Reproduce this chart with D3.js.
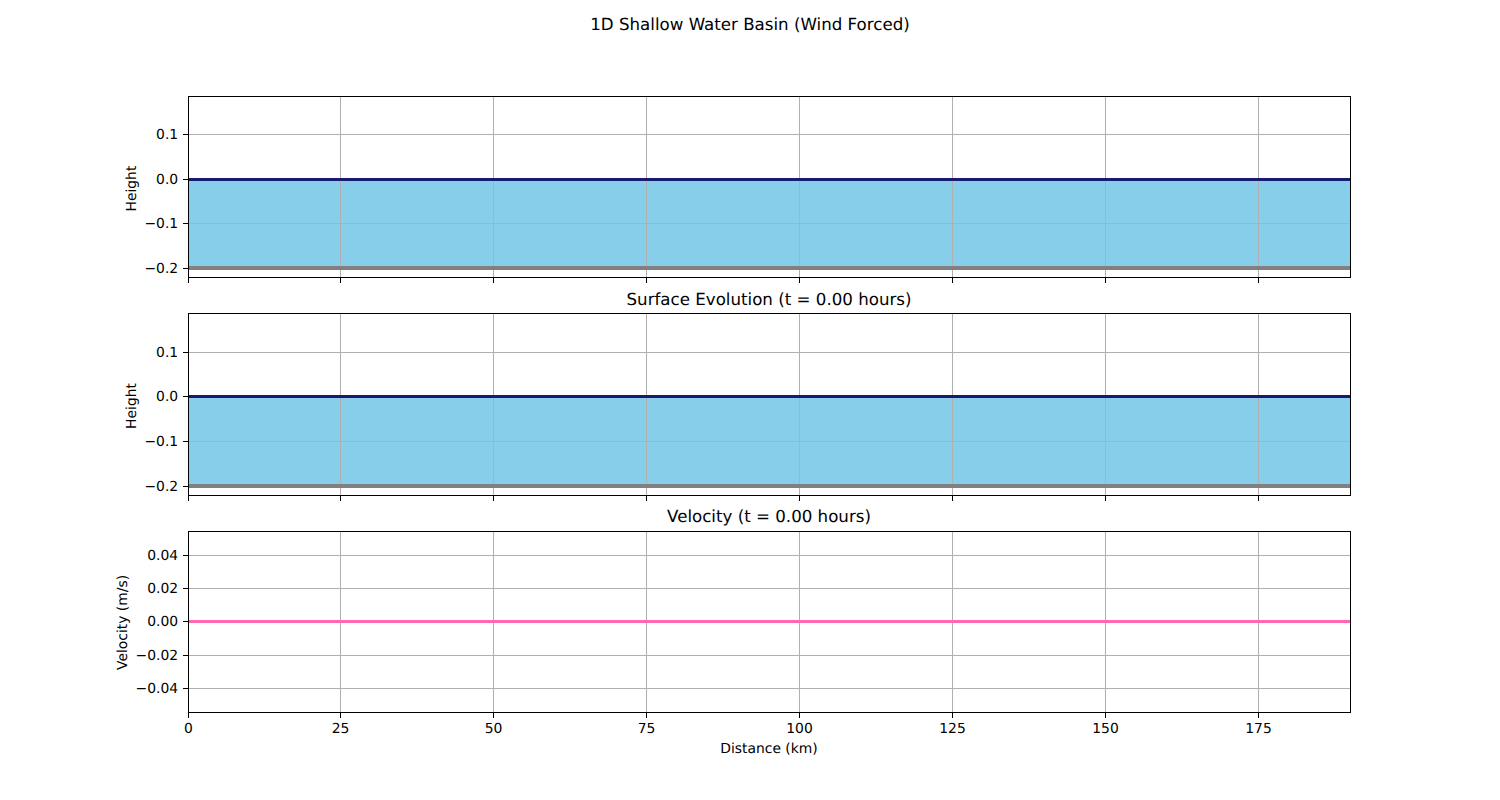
<!DOCTYPE html>
<html>
<head>
<meta charset="utf-8">
<script src="https://cdn.jsdelivr.net/npm/d3@7"></script>
<style>
  html, body { margin: 0; padding: 0; background: #fff; overflow: hidden; }
  text { font-family: "DejaVu Sans", sans-serif; fill: #000; text-rendering: geometricPrecision; }
</style>
</head>
<body>
<script>
// values
var distance = [0, 190];
var surface = [0, 0];
var bed = [-0.2, -0.2];
var velocity = [0, 0];

var xTicks = [0, 25, 50, 75, 100, 125, 150, 175];
var heightTicks = [-0.2, -0.1, 0, 0.1];
var velocityTicks = [-0.04, -0.02, 0, 0.02, 0.04];

var figureTitle = "1D Shallow Water Basin (Wind Forced)";
var surfaceTitle = "Surface Evolution (t = 0.00 hours)";
var velocityTitle = "Velocity (t = 0.00 hours)";

var heightDomain = [-0.219, 0.1864];
var velocityDomain = [-0.0543, 0.0549];

var width = 1500, height = 800;
var left = 188, right = 1350;
var panelH = 181.18, panelGap = 36.24, top0 = 96;

var svg = d3.select("body").append("svg")
    .attr("width", width)
    .attr("height", height)
    .style("display", "block");

svg.append("text")
    .attr("x", 750)
    .attr("y", 30)
    .attr("text-anchor", "middle")
    .style("font-size", "16.67px")
    .text(figureTitle);

var x = d3.scaleLinear().domain([0, 190]).range([left, right]);

function minusFormat(digits) {
    return function (d) { return d3.format("." + digits + "f")(d).replace("-", "\u2212"); };
}

// lines sit on a pixel row, like the original
function snap(v) { return Math.floor(v) + 0.5; }

function drawPanel(i, opts) {
    var top = top0 + i * (panelH + panelGap);
    var bottom = top + panelH;
    var y = d3.scaleLinear().domain(opts.domain).range([bottom, top]);
    var g = svg.append("g");
    var clipId = "clip" + i;

    g.append("clipPath").attr("id", clipId)
        .append("rect")
        .attr("x", left).attr("y", top)
        .attr("width", right - left).attr("height", panelH);

    var fillLayer = g.append("g").attr("clip-path", "url(#" + clipId + ")");

    if (opts.surface) {
        var rows = distance.map(function (d, j) {
            return { x: d, top: opts.surface[j], low: opts.bed[j] };
        });
        var area = d3.area()
            .x(function (d) { return x(d.x); })
            .y0(function (d) { return y(d.low); })
            .y1(function (d) { return y(d.top); });
        fillLayer.append("path").datum(rows)
            .attr("d", area)
            .attr("fill", "#87ceeb");
    }

    // grid
    g.append("g").selectAll("line").data(xTicks).enter().append("line")
        .attr("x1", function (d) { return snap(x(d)); })
        .attr("x2", function (d) { return snap(x(d)); })
        .attr("y1", top).attr("y2", bottom)
        .attr("stroke", "#b0b0b0").attr("stroke-width", 1)
        .attr("shape-rendering", "crispEdges");
    g.append("g").selectAll("line").data(opts.ticks).enter().append("line")
        .attr("x1", left).attr("x2", right)
        .attr("y1", function (d) { return snap(y(d)); })
        .attr("y2", function (d) { return snap(y(d)); })
        .attr("stroke", "#b0b0b0").attr("stroke-width", 1)
        .attr("shape-rendering", "crispEdges");

    var plot = g.append("g").attr("clip-path", "url(#" + clipId + ")");

    var thinLine = d3.line()
        .x(function (d) { return x(d[0]); })
        .y(function (d) { return snap(y(d[1])); });
    var thickLine = d3.line()
        .x(function (d) { return x(d[0]); })
        .y(function (d) { return Math.floor(y(d[1])); });

    if (opts.surface) {
        plot.append("path").datum(d3.zip(distance, opts.bed))
            .attr("d", thickLine).attr("fill", "none")
            .attr("stroke", "#808080").attr("stroke-width", 4.17);
        plot.append("path").datum(d3.zip(distance, opts.surface))
            .attr("d", thinLine).attr("fill", "none")
            .attr("stroke", "#191970").attr("stroke-width", 2.78);
    }
    if (opts.velocity) {
        plot.append("path").datum(d3.zip(distance, opts.velocity))
            .attr("d", thinLine).attr("fill", "none")
            .attr("stroke", "#ff69b4").attr("stroke-width", 2.78);
    }

    // axes
    var yAxis = d3.axisLeft(y)
        .offset(0)
        .tickValues(opts.ticks)
        .tickSize(5)
        .tickPadding(4.86)
        .tickFormat(minusFormat(opts.digits));
    var xAxis = d3.axisBottom(x)
        .offset(0)
        .tickValues(xTicks)
        .tickSize(5)
        .tickPadding(5.6)
        .tickFormat(opts.showX ? d3.format("d") : "");

    var boxTop = Math.round(top) + 0.5;
    var boxBottom = Math.round(bottom) + 0.5;

    var ya = g.append("g").attr("transform", "translate(" + left + ",0)").call(yAxis);
    var xa = g.append("g").attr("transform", "translate(0," + boxBottom + ")").call(xAxis);
    ya.selectAll(".tick").attr("transform", function (d) { return "translate(0," + snap(y(d)) + ")"; });
    xa.selectAll(".tick").attr("transform", function (d) { return "translate(" + snap(x(d)) + ",0)"; });
    [ya, xa].forEach(function (a) {
        a.select(".domain").remove();
        a.selectAll("line").attr("stroke", "#000").attr("stroke-width", 1)
            .attr("shape-rendering", "crispEdges");
        a.selectAll("text").style("font-size", "13.89px").attr("font-family", null);
    });

    g.append("rect")
        .attr("x", left + 0.5).attr("y", boxTop)
        .attr("width", right - left).attr("height", boxBottom - boxTop)
        .attr("fill", "none").attr("stroke", "#000").attr("stroke-width", 1)
        .attr("shape-rendering", "crispEdges");

    if (opts.title) {
        g.append("text")
            .attr("x", (left + right) / 2)
            .attr("y", top - 8.8)
            .attr("text-anchor", "middle")
            .style("font-size", "16.67px")
            .text(opts.title);
    }

    g.append("text")
        .attr("transform", "translate(" + opts.labelX + "," + (top + panelH / 2 + opts.labelShift) + ") rotate(-90)")
        .attr("text-anchor", "middle")
        .style("font-size", "13.89px")
        .text(opts.ylabel);

    if (opts.showX) {
        g.append("text")
            .attr("x", (left + right) / 2)
            .attr("y", 753)
            .attr("text-anchor", "middle")
            .style("font-size", "13.89px")
            .text("Distance (km)");
    }
}

drawPanel(0, { domain: heightDomain, ticks: heightTicks, digits: 1, surface: surface, bed: bed, ylabel: "Height", labelX: 136, labelShift: 2 });
drawPanel(1, { domain: heightDomain, ticks: heightTicks, digits: 1, surface: surface, bed: bed, ylabel: "Height", labelX: 136, labelShift: 2, title: surfaceTitle });
drawPanel(2, { domain: velocityDomain, ticks: velocityTicks, digits: 2, velocity: velocity, ylabel: "Velocity (m/s)", labelX: 127, labelShift: 1, title: velocityTitle, showX: true });
</script>
</body>
</html>
